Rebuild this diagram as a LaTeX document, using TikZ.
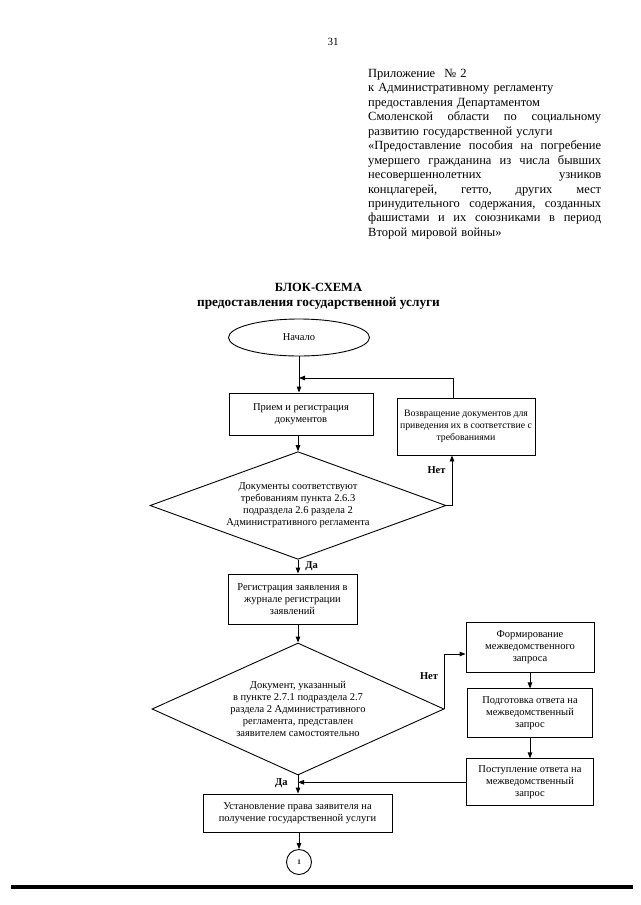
\documentclass[tikz,border=0pt]{standalone}
\usepackage{fontspec}
\setmainfont{Liberation Serif}
\usetikzlibrary{arrows.meta,positioning,shapes.geometric}

\newcommand{\jline}[1]{\leavevmode\hbox to 233pt{#1}}

\tikzset{
	blk/.style={draw, line width=0.9pt, align=center, inner sep=1pt,
		font=\fontsize{10.5}{12}\selectfont},
	cond/.style={blk, diamond, aspect=2.4},
	arr/.style={line width=0.9pt, -{Triangle[length=6pt,width=4.5pt]}},
	lbl/.style={font=\fontsize{10.5}{12}\selectfont\bfseries, inner sep=1pt}
}

\begin{document}
\begin{tikzpicture}[x=1pt, y=-1pt]
	\useasboundingbox (0,0) rectangle (640,905);

	% page header
	\node (page) at (333,42) {\fontsize{11}{13}\selectfont 31};
	\node[anchor=north west, text width=233pt, align=left, inner sep=0pt,
		font=\fontsize{12.5}{14.45}\selectfont] (appx) at (368,69) {%
		Приложение\hspace{9pt}№~2\\
		к Административному регламенту\\
		предоставления Департаментом\\
		\jline{Смоленской\hfill области\hfill по\hfill социальному}\\
		развитию государственной услуги\\
		\jline{«Предоставление\hfill пособия\hfill на\hfill погребение}\\
		\jline{умершего\hfill гражданина\hfill из\hfill числа\hfill бывших}\\
		\jline{несовершеннолетних\hfill узников}\\
		\jline{концлагерей,\hfill гетто,\hfill других\hfill мест}\\
		\jline{принудительного\hfill содержания,\hfill созданных}\\
		\jline{фашистами\hfill и\hfill их\hfill союзниками\hfill в\hfill период}\\
		Второй мировой войны»};

	% title
	\node[font=\fontsize{12.5}{15}\selectfont\bfseries] (title) at (318.5,287) {БЛОК-СХЕМА};
	\node[font=\fontsize{13.3}{16}\selectfont\bfseries] (subtitle) at (318.5,303)
		{предоставления государственной услуги};

	% main column
	\node[blk, ellipse, minimum width=141pt, minimum height=37pt] (start) at (299,337.5) {Начало};
	\node[blk, minimum width=144pt, minimum height=42pt] (recv) at (301,414)
		{Прием и регистрация\\документов};
	\node[blk, minimum width=138pt, minimum height=57pt, font=\fontsize{9.8}{12}\selectfont] (ret) at (466,426.5)
		{Возвращение документов для\\приведения их в соответствие с\\требованиями};
	\node[cond, minimum width=296pt, minimum height=105pt] (chk) at (298,505.5)
		{Документы соответствуют\\требованиям пункта 2.6.3\\подраздела 2.6 раздела 2\\Административного регламента};
	\node[blk, minimum width=129pt, minimum height=50pt] (reg) at (292.5,599)
		{Регистрация заявления в\\журнале регистрации\\заявлений};
	\node[cond, minimum width=292pt, minimum height=132pt] (docs) at (298,709)
		{Документ, указанный\\в пункте 2.7.1 подраздела 2.7\\раздела 2 Административного\\регламента, представлен\\заявителем самостоятельно};
	\node[blk, minimum width=189pt, minimum height=38pt] (grant) at (297.5,813)
		{Установление права заявителя на\\получение государственной услуги};
	\node[blk, circle, minimum size=25pt, inner sep=0pt, font=\fontsize{7}{8}\selectfont\bfseries] (c1) at (299,862) {1};

	% interdepartmental request
	\node[blk, minimum width=128pt, minimum height=50pt] (form) at (530,647)
		{Формирование\\межведомственного\\запроса};
	\node[blk, minimum width=125pt, minimum height=49pt] (prep) [below=16pt of form]
		{Подготовка ответа на\\межведомственный\\запрос};
	\node[blk, minimum width=127pt, minimum height=47pt] (resp) [below=20pt of prep]
		{Поступление ответа на\\межведомственный\\запрос};

	\coordinate (j1) at (299,378);

	\draw[arr] (start) -- (start |- recv.north);
	\draw[arr] ([xshift=-13pt]ret.north) |- (j1);
	\draw[arr] (recv.south -| chk.north) -- (chk.north);
	\draw[arr] (chk.east) -| node[lbl, pos=0.85, left=5pt] {Нет} ([xshift=-14pt]ret.south);
	\draw[arr] (chk.south) -- node[lbl, right=6pt] {Да} (chk.south |- reg.north);
	\draw[arr] (reg.south -| docs.north) -- (docs.north);
	\draw[arr] (docs.east) |- node[lbl, pos=0.3, left=5pt] {Нет} ([yshift=-7pt]form.west);
	\draw[arr] (form) -- (prep);
	\draw[arr] (prep) -- (resp);
	\draw[arr] (resp.west) -- (resp.west -| docs.south);
	\draw[arr] (docs.south) -- node[lbl, left=9pt, pos=0.4] {Да} (docs.south |- grant.north);
	\draw[arr] (grant.south -| c1.north) -- (c1.north);

	% bottom rule
	\draw[line width=4.5pt] (11,887) -- (633,887);
\end{tikzpicture}
\end{document}
